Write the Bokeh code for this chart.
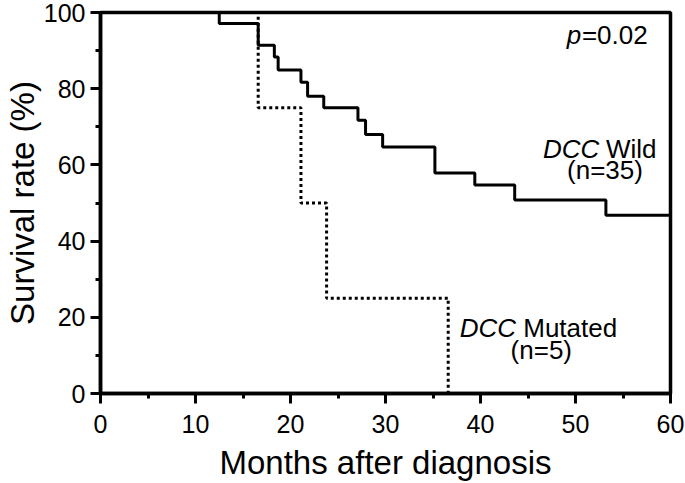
from bokeh.plotting import figure
from bokeh.models import Range1d, SingleIntervalTicker, Label
from bokeh.embed import file_html
from bokeh.resources import INLINE

# Kaplan-Meier step data
wild_months = [0, 12.5, 16.6, 18.3, 18.7, 21.1, 21.8, 23.5, 27.1, 27.9, 29.7, 35.2, 39.4, 43.6, 53.2, 60]
wild_survival = [100, 97.1, 91.4, 88.3, 84.9, 81.7, 78.0, 75.0, 71.7, 68.0, 64.7, 57.9, 54.7, 50.8, 46.8, 46.8]
mut_months = [0, 16.6, 21.1, 23.8, 36.6]
mut_survival = [100, 75, 50, 25, 0]

x_label = "Months after diagnosis"
y_label = "Survival rate (%)"
p_value_text = "=0.02"

FONT = "Liberation Sans"

p = figure(width=685, height=483, output_backend="svg", toolbar_location=None,
           x_range=Range1d(0, 60), y_range=Range1d(0, 100),
           min_border_left=99, min_border_right=15, min_border_top=12, min_border_bottom=89)
p.background_fill_color = "white"
p.border_fill_color = "white"
p.grid.visible = False
p.outline_line_color = "black"
p.outline_line_width = 3.5

p.xaxis.ticker = SingleIntervalTicker(interval=10, num_minor_ticks=2)
p.yaxis.ticker = SingleIntervalTicker(interval=20, num_minor_ticks=2)

for ax in (p.xaxis, p.yaxis):
    ax.axis_line_width = 3.5
    ax.axis_line_color = "black"
    ax.major_tick_line_width = 3
    ax.minor_tick_line_width = 3
    ax.major_tick_in = 0
    ax.minor_tick_in = 0
    ax.major_tick_out = 10
    ax.minor_tick_out = 5
    ax.major_label_text_font = FONT
    ax.major_label_text_font_size = "25px"
    ax.major_label_text_color = "black"
    ax.axis_label_text_font = FONT
    ax.axis_label_text_font_size = "33px"
    ax.axis_label_text_font_style = "normal"
    ax.axis_label_text_color = "black"

p.xaxis.axis_label = x_label
p.yaxis.axis_label = y_label
p.xaxis.major_label_standoff = 11
p.yaxis.major_label_standoff = 5
p.xaxis.axis_label_standoff = 8
p.yaxis.axis_label_standoff = 0

p.step(wild_months, wild_survival, mode="after", line_color="black", line_width=3)
p.step(mut_months, mut_survival, mode="after", line_color="black", line_width=3, line_dash="3 3")

def lab(x, y, text, align, baseline="alphabetic", style="normal", size="26px"):
    p.add_layout(Label(x=x, y=y, text=text, text_align=align, text_baseline=baseline,
                       text_font=FONT, text_font_size=size, text_font_style=style,
                       text_color="black"))

# p value
lab(57.6, 94.0, p_value_text, "right")
lab(50.6, 94.0, "p", "right", style="italic")
# DCC Wild
lab(52.5, 64.3, "DCC", "right", style="italic")
lab(53.2, 64.3, "Wild", "left")
lab(53.1, 58.6, "(n=35)", "center", baseline="middle")
# DCC Mutated
lab(43.75, 17.3, "DCC", "right", style="italic")
lab(44.5, 17.3, "Mutated", "left")
lab(46.4, 11.4, "(n=5)", "center", baseline="middle")

open("out.html", "w").write(file_html(p, INLINE))
